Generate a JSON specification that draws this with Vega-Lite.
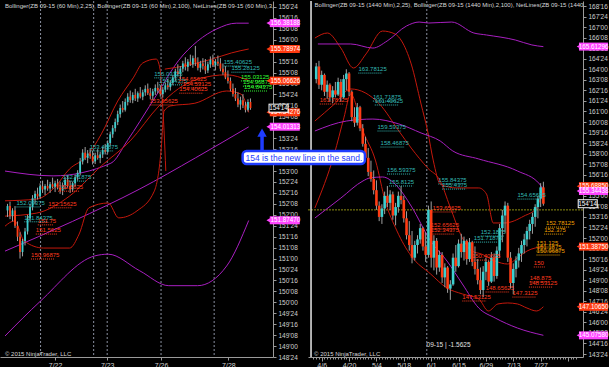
{
"$schema": "https://vega.github.io/schema/vega-lite/v6.json",
"background": "#000000",
"padding": 0,
"spacing": 35,
"bounds": "flush",
"config": {"view": {"stroke": null}, "font": "Liberation Sans",
 "axis": {"labelOverlap": false, "labelFlush": false, "grid": false, "labelFontSize": 6.5, "labelColor": "#d0d0d0", "tickColor": "#9a9a9a", "domainColor": "#9a9a9a", "tickSize": 3, "labelPadding": 2, "labelBound": false, "labelSeparation": 0}},
"datasets": {
"lc": [
{"i":1,"o":152.10,"h":152.25,"l":151.95,"c":152.20},{"i":2,"o":152.20,"h":152.30,"l":151.90,"c":151.98},{"i":3,"o":151.98,"h":152.15,"l":151.85,"c":152.10},{"i":4,"o":152.10,"h":152.20,"l":151.70,"c":151.75},{"i":5,"o":151.75,"h":151.85,"l":151.40,"c":151.50},{"i":6,"o":151.50,"h":151.60,"l":151.00,"c":151.15},{"i":7,"o":151.15,"h":151.45,"l":151.05,"c":151.40},{"i":8,"o":151.40,"h":151.70,"l":151.30,"c":151.62},{"i":9,"o":151.62,"h":152.00,"l":151.55,"c":151.92},{"i":10,"o":151.92,"h":152.25,"l":151.85,"c":152.18},
{"i":11,"o":152.18,"h":152.45,"l":152.10,"c":152.38},{"i":12,"o":152.38,"h":152.55,"l":152.25,"c":152.48},{"i":13,"o":152.48,"h":152.62,"l":152.35,"c":152.42},{"i":14,"o":152.42,"h":152.72,"l":152.38,"c":152.65},{"i":15,"o":152.65,"h":152.78,"l":152.50,"c":152.58},{"i":16,"o":152.58,"h":152.70,"l":152.45,"c":152.66},{"i":17,"o":152.66,"h":152.80,"l":152.55,"c":152.60},{"i":18,"o":152.60,"h":152.75,"l":152.50,"c":152.70},{"i":19,"o":152.70,"h":152.85,"l":152.60,"c":152.64},{"i":20,"o":152.64,"h":152.78,"l":152.52,"c":152.72},
{"i":21,"o":152.72,"h":152.82,"l":152.58,"c":152.62},{"i":22,"o":152.62,"h":152.76,"l":152.48,"c":152.55},{"i":23,"o":152.55,"h":152.74,"l":152.45,"c":152.68},{"i":24,"o":152.68,"h":152.86,"l":152.58,"c":152.80},{"i":25,"o":152.80,"h":152.90,"l":152.62,"c":152.66},{"i":26,"o":152.66,"h":152.78,"l":152.50,"c":152.58},{"i":27,"o":152.58,"h":152.76,"l":152.52,"c":152.72},{"i":28,"o":152.72,"h":152.92,"l":152.65,"c":152.86},{"i":29,"o":152.86,"h":153.02,"l":152.78,"c":152.96},{"i":30,"o":152.96,"h":153.30,"l":152.90,"c":153.22},
{"i":31,"o":153.22,"h":153.50,"l":153.15,"c":153.42},{"i":32,"o":153.42,"h":153.55,"l":153.25,"c":153.30},{"i":33,"o":153.30,"h":153.48,"l":153.18,"c":153.40},{"i":34,"o":153.40,"h":153.52,"l":153.28,"c":153.34},{"i":35,"o":153.34,"h":153.46,"l":153.15,"c":153.22},{"i":36,"o":153.22,"h":153.42,"l":153.16,"c":153.36},{"i":37,"o":153.36,"h":153.50,"l":153.26,"c":153.30},{"i":38,"o":153.30,"h":153.44,"l":153.18,"c":153.38},{"i":39,"o":153.38,"h":153.56,"l":153.30,"c":153.48},{"i":40,"o":153.48,"h":153.62,"l":153.38,"c":153.44},
{"i":41,"o":153.44,"h":153.70,"l":153.40,"c":153.64},{"i":42,"o":153.64,"h":153.90,"l":153.58,"c":153.84},{"i":43,"o":153.84,"h":154.05,"l":153.76,"c":153.98},{"i":44,"o":153.98,"h":154.20,"l":153.90,"c":154.12},{"i":45,"o":154.12,"h":154.38,"l":154.05,"c":154.30},{"i":46,"o":154.30,"h":154.52,"l":154.22,"c":154.44},{"i":47,"o":154.44,"h":154.60,"l":154.34,"c":154.40},{"i":48,"o":154.40,"h":154.66,"l":154.36,"c":154.58},{"i":49,"o":154.58,"h":154.78,"l":154.50,"c":154.70},{"i":50,"o":154.70,"h":154.84,"l":154.56,"c":154.62},
{"i":51,"o":154.62,"h":154.80,"l":154.55,"c":154.74},{"i":52,"o":154.74,"h":154.88,"l":154.60,"c":154.66},{"i":53,"o":154.66,"h":154.82,"l":154.58,"c":154.78},{"i":54,"o":154.78,"h":154.92,"l":154.66,"c":154.70},{"i":55,"o":154.70,"h":154.86,"l":154.62,"c":154.80},{"i":56,"o":154.80,"h":154.96,"l":154.72,"c":154.88},{"i":57,"o":154.88,"h":155.00,"l":154.74,"c":154.78},{"i":58,"o":154.78,"h":154.90,"l":154.64,"c":154.72},{"i":59,"o":154.72,"h":154.88,"l":154.62,"c":154.82},{"i":60,"o":154.82,"h":154.98,"l":154.74,"c":154.90},
{"i":61,"o":154.90,"h":155.04,"l":154.78,"c":154.84},{"i":62,"o":154.84,"h":154.96,"l":154.70,"c":154.76},{"i":63,"o":154.76,"h":154.92,"l":154.68,"c":154.86},{"i":64,"o":154.86,"h":155.02,"l":154.80,"c":154.96},{"i":65,"o":154.96,"h":155.10,"l":154.86,"c":154.92},{"i":66,"o":154.92,"h":155.08,"l":154.84,"c":155.02},{"i":67,"o":155.02,"h":155.20,"l":154.96,"c":155.14},{"i":68,"o":155.14,"h":155.34,"l":155.06,"c":155.28},{"i":69,"o":155.28,"h":155.44,"l":155.16,"c":155.22},{"i":70,"o":155.22,"h":155.40,"l":155.10,"c":155.34},
{"i":71,"o":155.34,"h":155.52,"l":155.26,"c":155.46},{"i":72,"o":155.46,"h":155.60,"l":155.30,"c":155.38},{"i":73,"o":155.38,"h":155.56,"l":155.28,"c":155.50},{"i":74,"o":155.50,"h":155.66,"l":155.40,"c":155.44},{"i":75,"o":155.44,"h":155.64,"l":155.36,"c":155.58},{"i":76,"o":155.58,"h":155.86,"l":155.40,"c":155.48},{"i":77,"o":155.48,"h":155.60,"l":155.30,"c":155.36},{"i":78,"o":155.36,"h":155.52,"l":155.26,"c":155.46},{"i":79,"o":155.46,"h":155.58,"l":155.32,"c":155.40},{"i":80,"o":155.40,"h":155.56,"l":155.22,"c":155.30},
{"i":81,"o":155.30,"h":155.50,"l":155.24,"c":155.44},{"i":82,"o":155.44,"h":155.62,"l":155.36,"c":155.54},{"i":83,"o":155.54,"h":155.66,"l":155.38,"c":155.42},{"i":84,"o":155.42,"h":155.56,"l":155.30,"c":155.50},{"i":85,"o":155.50,"h":155.64,"l":155.40,"c":155.46},{"i":86,"o":155.46,"h":155.58,"l":155.28,"c":155.34},{"i":87,"o":155.34,"h":155.46,"l":155.20,"c":155.26},{"i":88,"o":155.26,"h":155.40,"l":155.10,"c":155.14},{"i":89,"o":155.14,"h":155.30,"l":155.00,"c":155.06},{"i":90,"o":155.06,"h":155.14,"l":154.82,"c":154.88},
{"i":91,"o":154.88,"h":155.00,"l":154.70,"c":154.76},{"i":92,"o":154.76,"h":154.90,"l":154.60,"c":154.66},{"i":93,"o":154.66,"h":154.80,"l":154.46,"c":154.52},{"i":94,"o":154.52,"h":154.70,"l":154.40,"c":154.62},{"i":95,"o":154.62,"h":154.76,"l":154.44,"c":154.50},{"i":96,"o":154.50,"h":154.58,"l":154.34,"c":154.40},{"i":97,"o":154.40,"h":154.64,"l":154.36,"c":154.58},{"i":98,"o":154.58,"h":154.66,"l":154.40,"c":154.44}
],
"rc": [
{"i":1,"o":163.3,"h":164.45,"l":163.0,"c":164.2},{"i":2,"o":164.2,"h":164.6,"l":162.6,"c":162.9},{"i":3,"o":162.9,"h":163.9,"l":162.5,"c":163.6},{"i":4,"o":163.6,"h":163.7,"l":162.1,"c":162.4},{"i":5,"o":162.4,"h":163.2,"l":161.9,"c":162.9},{"i":6,"o":162.9,"h":163.0,"l":161.7,"c":162.0},{"i":7,"o":162.0,"h":162.8,"l":161.6,"c":162.5},{"i":8,"o":162.5,"h":163.1,"l":162.0,"c":162.2},{"i":9,"o":162.2,"h":163.4,"l":162.1,"c":163.1},{"i":10,"o":163.1,"h":163.3,"l":161.7,"c":162.0},
{"i":11,"o":162.0,"h":163.6,"l":161.9,"c":163.3},{"i":12,"o":163.3,"h":164.0,"l":162.5,"c":163.7},{"i":13,"o":163.7,"h":163.8,"l":162.1,"c":162.4},{"i":14,"o":162.4,"h":162.5,"l":160.3,"c":160.6},{"i":15,"o":160.6,"h":161.3,"l":159.9,"c":160.2},{"i":16,"o":160.2,"h":161.6,"l":160.0,"c":161.3},{"i":17,"o":161.3,"h":161.4,"l":159.6,"c":159.8},{"i":18,"o":159.8,"h":160.1,"l":158.5,"c":158.7},{"i":19,"o":158.7,"h":159.2,"l":157.5,"c":157.7},{"i":20,"o":157.7,"h":158.4,"l":156.4,"c":156.7},
{"i":21,"o":156.7,"h":157.5,"l":156.0,"c":156.2},{"i":22,"o":156.2,"h":156.8,"l":155.1,"c":155.4},{"i":23,"o":155.4,"h":156.1,"l":154.0,"c":154.3},{"i":24,"o":154.3,"h":154.6,"l":153.2,"c":153.5},{"i":25,"o":153.5,"h":154.4,"l":153.0,"c":154.1},{"i":26,"o":154.1,"h":155.3,"l":153.7,"c":155.0},{"i":27,"o":155.0,"h":155.7,"l":154.2,"c":154.5},{"i":28,"o":154.5,"h":155.4,"l":154.0,"c":155.1},{"i":29,"o":155.1,"h":155.3,"l":153.3,"c":153.6},{"i":30,"o":153.6,"h":154.5,"l":152.9,"c":154.2},
{"i":31,"o":154.2,"h":155.3,"l":153.8,"c":155.0},{"i":32,"o":155.0,"h":155.7,"l":154.4,"c":154.7},{"i":33,"o":154.7,"h":155.0,"l":153.1,"c":153.4},{"i":34,"o":153.4,"h":153.9,"l":151.9,"c":152.2},{"i":35,"o":152.2,"h":153.2,"l":151.1,"c":151.5},{"i":36,"o":151.5,"h":152.5,"l":150.2,"c":150.6},{"i":37,"o":150.6,"h":151.8,"l":150.4,"c":151.5},{"i":38,"o":151.5,"h":152.2,"l":150.9,"c":151.9},{"i":39,"o":151.9,"h":153.0,"l":151.6,"c":152.7},{"i":40,"o":152.7,"h":152.8,"l":151.1,"c":151.4},
{"i":41,"o":151.4,"h":152.4,"l":150.3,"c":150.8},{"i":42,"o":150.8,"h":154.3,"l":150.6,"c":154.0},{"i":43,"o":154.0,"h":154.6,"l":149.9,"c":150.6},{"i":44,"o":150.6,"h":152.2,"l":149.7,"c":151.8},{"i":45,"o":151.8,"h":152.0,"l":149.4,"c":149.9},{"i":46,"o":149.9,"h":151.1,"l":149.6,"c":150.8},{"i":47,"o":150.8,"h":151.0,"l":148.8,"c":149.2},{"i":48,"o":149.2,"h":150.2,"l":148.5,"c":149.9},{"i":49,"o":149.9,"h":150.0,"l":148.1,"c":148.4},{"i":50,"o":148.4,"h":149.0,"l":147.6,"c":148.7},
{"i":51,"o":148.7,"h":150.9,"l":148.6,"c":150.6},{"i":52,"o":150.6,"h":151.5,"l":149.6,"c":150.0},{"i":53,"o":150.0,"h":151.9,"l":149.9,"c":151.6},{"i":54,"o":151.6,"h":152.3,"l":150.6,"c":151.0},{"i":55,"o":151.0,"h":152.1,"l":150.4,"c":151.8},{"i":56,"o":151.8,"h":151.9,"l":150.1,"c":150.5},{"i":57,"o":150.5,"h":152.0,"l":150.3,"c":151.7},{"i":58,"o":151.7,"h":151.8,"l":150.0,"c":150.3},{"i":59,"o":150.3,"h":151.4,"l":149.4,"c":149.8},{"i":60,"o":149.8,"h":150.5,"l":148.7,"c":149.0},
{"i":61,"o":149.0,"h":149.9,"l":148.0,"c":148.3},{"i":62,"o":148.3,"h":150.0,"l":147.8,"c":149.6},{"i":63,"o":149.6,"h":150.6,"l":149.0,"c":150.3},{"i":64,"o":150.3,"h":150.4,"l":148.6,"c":148.9},{"i":65,"o":148.9,"h":151.0,"l":148.8,"c":150.6},{"i":66,"o":150.6,"h":150.9,"l":148.9,"c":149.3},{"i":67,"o":149.3,"h":151.4,"l":149.1,"c":151.1},{"i":68,"o":151.1,"h":153.0,"l":150.6,"c":152.7},{"i":69,"o":152.7,"h":154.0,"l":151.7,"c":153.6},{"i":70,"o":153.6,"h":154.6,"l":152.4,"c":154.3},
{"i":71,"o":154.3,"h":154.5,"l":150.3,"c":150.6},{"i":72,"o":150.6,"h":151.0,"l":148.4,"c":148.8},{"i":73,"o":148.8,"h":150.2,"l":148.0,"c":149.8},{"i":74,"o":149.8,"h":150.7,"l":149.2,"c":150.4},{"i":75,"o":150.4,"h":151.3,"l":149.9,"c":150.9},{"i":76,"o":150.9,"h":151.8,"l":150.3,"c":151.5},{"i":77,"o":151.5,"h":152.3,"l":150.9,"c":151.9},{"i":78,"o":151.9,"h":152.8,"l":151.4,"c":152.5},{"i":79,"o":152.5,"h":153.3,"l":151.9,"c":153.0},{"i":80,"o":153.0,"h":153.8,"l":152.3,"c":153.5},
{"i":81,"o":153.5,"h":154.4,"l":152.8,"c":154.2},{"i":82,"o":154.2,"h":155.0,"l":153.4,"c":154.8},{"i":83,"o":154.8,"h":155.9,"l":154.2,"c":155.6},{"i":84,"o":155.6,"h":156.0,"l":154.3,"c":154.44}
],
"ll": [
{"s":"pu","i":0,"p":153.0},{"s":"pu","i":19.2,"p":152.89},{"s":"pu","i":42.3,"p":153.18},{"s":"pu","i":48.8,"p":153.69},{"s":"pu","i":53.8,"p":154.13},{"s":"pu","i":61.5,"p":154.83},{"s":"pu","i":69.2,"p":155.52},{"s":"pu","i":76.9,"p":155.97},{"s":"pu","i":84.6,"p":156.25},{"s":"pu","i":92.3,"p":156.38},{"s":"pu","i":97.3,"p":156.38},
{"s":"pm","i":0,"p":151.17},{"s":"pm","i":27,"p":151.85},{"s":"pm","i":53.8,"p":152.59},{"s":"pm","i":76,"p":153.3},{"s":"pm","i":97.3,"p":154.01},
{"s":"pl","i":0,"p":149.23},{"s":"pl","i":14.2,"p":150.03},{"s":"pl","i":35.8,"p":151.06},{"s":"pl","i":41.2,"p":151.1},{"s":"pl","i":53.8,"p":150.72},{"s":"pl","i":65.4,"p":150.38},{"s":"pl","i":76.9,"p":150.38},{"s":"pl","i":88.5,"p":150.83},{"s":"pl","i":97.3,"p":151.87},
{"s":"ru","i":0,"p":152.32},{"s":"ru","i":12.7,"p":152.36},{"s":"ru","i":19.2,"p":152.59},{"s":"ru","i":25.8,"p":153.05},{"s":"ru","i":32.7,"p":153.34},{"s":"ru","i":38.5,"p":153.85},{"s":"ru","i":45,"p":154.6},{"s":"ru","i":51.2,"p":155.13},{"s":"ru","i":55,"p":155.47},{"s":"ru","i":60.4,"p":155.56},{"s":"ru","i":61.9,"p":155.33},{"s":"ru","i":62.7,"p":154.72},{"s":"ru","i":63.5,"p":153.92},{"s":"ru","i":64.2,"p":153.0},
{"s":"ru2","i":63.8,"p":155.33},{"s":"ru2","i":73.1,"p":155.42},{"s":"ru2","i":82.7,"p":155.56},{"s":"ru2","i":90.4,"p":155.7},{"s":"ru2","i":97.3,"p":155.79},
{"s":"rm","i":0,"p":151.97},{"s":"rm","i":12.7,"p":152.04},{"s":"rm","i":25.8,"p":152.43},{"s":"rm","i":38.5,"p":153.12},{"s":"rm","i":50,"p":153.69},{"s":"rm","i":61.5,"p":154.49},{"s":"rm","i":69.2,"p":154.88},{"s":"rm","i":76.9,"p":155.1},{"s":"rm","i":88.5,"p":155.2},{"s":"rm","i":97.3,"p":155.07},
{"s":"rl","i":0,"p":151.74},{"s":"rl","i":3.8,"p":151.86},{"s":"rl","i":7.7,"p":151.4},{"s":"rl","i":15.4,"p":151.24},{"s":"rl","i":25.8,"p":151.24},{"s":"rl","i":29.6,"p":151.56},{"s":"rl","i":33.5,"p":152.16},{"s":"rl","i":41.2,"p":152.27},{"s":"rl","i":45.4,"p":151.93},{"s":"rl","i":52.7,"p":152.09},{"s":"rl","i":59.6,"p":152.54},{"s":"rl","i":62.3,"p":153.46},{"s":"rl","i":63.5,"p":154.37},{"s":"rl","i":66.2,"p":154.49},{"s":"rl","i":75.8,"p":154.55},{"s":"rl","i":88.5,"p":154.83},{"s":"rl","i":94.2,"p":154.76},{"s":"rl","i":97.3,"p":154.34}
],
"rl": [
{"s":"ru","i":0.5,"p":166.22},{"s":"ru","i":5.1,"p":166.58},{"s":"ru","i":10,"p":165.51},{"s":"ru","i":14.6,"p":164.09},{"s":"ru","i":19.2,"p":165.09},{"s":"ru","i":25.2,"p":166.72},{"s":"ru","i":29.8,"p":166.51},{"s":"ru","i":32.2,"p":166.01},{"s":"ru","i":35.7,"p":164.38},{"s":"ru","i":39.3,"p":161.53},{"s":"ru","i":41.7,"p":159.61},{"s":"ru","i":43.8,"p":157.48},{"s":"ru","i":46.3,"p":155.84},{"s":"ru","i":52.3,"p":155.56},{"s":"ru","i":60.4,"p":155.56},{"s":"ru","i":63.2,"p":155.13},{"s":"ru","i":65.7,"p":153.07},{"s":"ru","i":69.9,"p":153.07},{"s":"ru","i":76.9,"p":153.56},{"s":"ru","i":81.5,"p":154.13},{"s":"ru","i":84,"p":155.69},
{"s":"rm","i":0.5,"p":160.32},{"s":"rm","i":7.5,"p":161.5},{"s":"rm","i":13.6,"p":162.6},{"s":"rm","i":24.1,"p":161.53},{"s":"rm","i":31.2,"p":159.61},{"s":"rm","i":35.7,"p":158.4},{"s":"rm","i":41.7,"p":156.98},{"s":"rm","i":46.3,"p":156.06},{"s":"rm","i":49.8,"p":154.27},{"s":"rm","i":54.4,"p":152.0},{"s":"rm","i":57.9,"p":151.07},{"s":"rm","i":61.4,"p":150.86},{"s":"rm","i":66.4,"p":150.36},{"s":"rm","i":70.9,"p":150.15},{"s":"rm","i":74.5,"p":150.58},{"s":"rm","i":78,"p":151.07},{"s":"rm","i":84,"p":151.39},
{"s":"rl","i":0.5,"p":154.13},{"s":"rl","i":7.6,"p":157.97},{"s":"rl","i":11.1,"p":160.54},{"s":"rl","i":13.6,"p":162.24},{"s":"rl","i":18.1,"p":159.6},{"s":"rl","i":22.7,"p":157.48},{"s":"rl","i":26.2,"p":154.63},{"s":"rl","i":30.5,"p":152.5},{"s":"rl","i":35.7,"p":150.72},{"s":"rl","i":42.8,"p":149.44},{"s":"rl","i":48.8,"p":148.44},{"s":"rl","i":54.4,"p":148.02},{"s":"rl","i":60.4,"p":147.66},{"s":"rl","i":63.9,"p":146.81},{"s":"rl","i":67.4,"p":147.31},{"s":"rl","i":71,"p":147.38},{"s":"rl","i":74.5,"p":147.31},{"s":"rl","i":78,"p":147.02},{"s":"rl","i":81.5,"p":146.81},{"s":"rl","i":84,"p":147.11},
{"s":"pu","i":1.6,"p":165.8},{"s":"pu","i":13.6,"p":165.8},{"s":"pu","i":21.7,"p":165.51},{"s":"pu","i":26.9,"p":166.01},{"s":"pu","i":34,"p":167.08},{"s":"pu","i":38.6,"p":167.36},{"s":"pu","i":42.1,"p":167.29},{"s":"pu","i":50.5,"p":167.36},{"s":"pu","i":58.6,"p":166.58},{"s":"pu","i":63.2,"p":166.44},{"s":"pu","i":73.8,"p":166.08},{"s":"pu","i":79.8,"p":165.73},{"s":"pu","i":84,"p":165.61},
{"s":"pm","i":0.5,"p":159.61},{"s":"pm","i":12.1,"p":160.32},{"s":"pm","i":21.7,"p":160.46},{"s":"pm","i":31.2,"p":160.11},{"s":"pm","i":39.3,"p":159.47},{"s":"pm","i":46.3,"p":158.9},{"s":"pm","i":50.9,"p":158.19},{"s":"pm","i":60.4,"p":157.62},{"s":"pm","i":74.5,"p":156.77},{"s":"pm","i":82.6,"p":155.84},{"s":"pm","i":84,"p":155.34},
{"s":"pl","i":0.5,"p":153.42},{"s":"pl","i":10,"p":154.84},{"s":"pl","i":18.1,"p":156.06},{"s":"pl","i":20.6,"p":156.27},{"s":"pl","i":25.2,"p":156.34},{"s":"pl","i":30.5,"p":155.7},{"s":"pl","i":35.7,"p":154.27},{"s":"pl","i":42.8,"p":151.79},{"s":"pl","i":48.8,"p":150.36},{"s":"pl","i":54.4,"p":148.73},{"s":"pl","i":60.4,"p":147.02},{"s":"pl","i":66.4,"p":146.31},{"s":"pl","i":74.5,"p":145.6},{"s":"pl","i":84,"p":145.08}
],
"lt": [
{"i":33.8,"i2":43.4,"p":153.46,"t":"153.46875","c":"cy"},{"i":23.1,"i2":32.7,"p":152.77,"t":"152.71875","c":"cy"},{"i":4.6,"i2":14.2,"p":152.18,"t":"152.09375","c":"cy"},{"i":7.7,"i2":17.3,"p":151.84,"t":"151.84375","c":"cy"},{"i":59.6,"i2":69.2,"p":155.13,"t":"155.03125","c":"cy"},{"i":61.5,"i2":71.1,"p":154.97,"t":"154.84375","c":"cy"},{"i":87.3,"i2":96.9,"p":155.4,"t":"155.40625","c":"cy"},{"i":90.4,"i2":100,"p":155.26,"t":"155.28125","c":"cy"},
{"i":17.3,"i2":26.9,"p":152.16,"t":"152.15625","c":"rd"},{"i":13.1,"i2":19.5,"p":151.77,"t":"151.75","c":"rd"},{"i":12.3,"i2":20.8,"p":151.56,"t":"151.5625","c":"rd"},{"i":10.4,"i2":20,"p":150.99,"t":"150.96875","c":"rd"},{"i":21.2,"i2":29.7,"p":152.54,"t":"152.5625","c":"rd"},{"i":69.2,"i2":78.8,"p":155.01,"t":"154.65625","c":"rd"},{"i":71,"i2":80.6,"p":154.9,"t":"154.53125","c":"rd"},{"i":69.6,"i2":79.2,"p":154.78,"t":"154.40625","c":"rd"},{"i":57.7,"i2":67.3,"p":154.51,"t":"153.65625","c":"rd"},
{"i":94.2,"i2":103.8,"p":155.06,"t":"155.03125","c":"gr"},{"i":95,"i2":104.5,"p":154.94,"t":"154.96875","c":"gr"},{"i":95.4,"i2":104.8,"p":154.83,"t":"154.84375","c":"gr"}
],
"rt": [
{"i":16.4,"i2":25.2,"p":163.73,"t":"163.78125","c":"cy"},{"i":21.7,"i2":30.5,"p":161.74,"t":"161.71875","c":"cy"},{"i":22.4,"i2":31.2,"p":161.46,"t":"161.40625","c":"cy"},{"i":23.4,"i2":32.2,"p":159.61,"t":"159.59375","c":"cy"},{"i":24.5,"i2":33.3,"p":158.47,"t":"158.46875","c":"cy"},{"i":26.9,"i2":35.7,"p":156.55,"t":"156.59375","c":"cy"},{"i":27.6,"i2":36.4,"p":155.7,"t":"155.8125","c":"cy"},{"i":45.6,"i2":54.4,"p":155.84,"t":"155.84375","c":"cy"},{"i":47,"i2":55.8,"p":155.48,"t":"155.4375","c":"cy"},{"i":74.5,"i2":83.3,"p":154.77,"t":"154.65625","c":"cy"},{"i":61.1,"i2":69.5,"p":152.14,"t":"152.1875","c":"cy"},{"i":58.6,"i2":67.4,"p":151.71,"t":"151.71875","c":"cy"},
{"i":2.3,"i2":11.1,"p":161.53,"t":"161.78125","c":"rd"},{"i":43.5,"i2":52.3,"p":153.85,"t":"153.65625","c":"rd"},{"i":42.8,"i2":51.6,"p":152.64,"t":"152.65625","c":"rd"},{"i":42.8,"i2":51.6,"p":152.28,"t":"152.34375","c":"rd"},{"i":57.9,"i2":66.7,"p":150.43,"t":"150.40625","c":"rd"},{"i":80.5,"i2":84.5,"p":149.94,"t":"150","c":"rd"},{"i":79,"i2":86,"p":148.87,"t":"148.875","c":"rd"},{"i":78.7,"i2":87.5,"p":148.51,"t":"148.53125","c":"rd"},{"i":72.7,"i2":81.1,"p":147.8,"t":"147.3125","c":"rd"},{"i":62.9,"i2":71.7,"p":148.16,"t":"148.65625","c":"rd"},{"i":54.4,"i2":63.2,"p":147.52,"t":"147.53125","c":"rd"},
{"i":85,"i2":93.8,"p":152.78,"t":"152.78125","c":"or"},{"i":84.3,"i2":91.5,"p":152.28,"t":"152.375","c":"or"},{"i":81.5,"i2":88,"p":151.36,"t":"151.125","c":"or"},{"i":81.5,"i2":90,"p":151.07,"t":"151.1875","c":"or"},{"i":81.5,"i2":90.3,"p":150.79,"t":"150.96875","c":"or"}
],
"ltag": [
{"p":156.38188,"t":"156.38188","c":"mg"},{"p":155.78974,"t":"155.78974","c":"rt"},{"p":155.06626,"t":"155.06626","c":"rt"},{"p":154.34276,"t":"154.34276","c":"rt"},{"p":154.01313,"t":"154.01313","c":"mg"},{"p":151.8747,"t":"151.87470","c":"mg"}
],
"rtag": [
{"p":165.61296,"t":"165.61296","c":"mg"},{"p":155.6885,"t":"155.68850","c":"rt"},{"p":155.34438,"t":"155.34438","c":"mg"},{"p":151.3875,"t":"151.38750","c":"rt"},{"p":147.1065,"t":"147.10650","c":"rt"},{"p":145.0758,"t":"145.07580","c":"mg"}
],
"cur": [{"p":154.4375,"t":"154'14"}],
"lv": [{"i":14.2},{"i":35.4},{"i":40.8},{"i":62.3},{"i":83.5}],
"rv": [{"i":41.4}],
"rh": [{"p":154.0}],
"lhead": [{"t":"Bollinger(ZB 09-15 (60 Min),2,25), Bollinger(ZB 09-15 (60 Min),2,100), NetLines(ZB 09-15 (60 Min),3,5,Color [Line])","cp":"© 2015 NinjaTrader, LLC"}],
"rhead": [{"t":"Bollinger(ZB 09-15 (1440 Min),2,25), Bollinger(ZB 09-15 (1440 Min),2,100), NetLines(ZB 09-15 (1440 Min),3,5,Color [Line])","cp":"© 2015 NinjaTrader, LLC","n":"09-15 | -1.5625","a":"154 is the new line in the sand."}]
},
"hconcat": [
{
"width": 273, "height": 356,
"resolve": {"axis": {"x": "independent", "y": "independent"}},
"layer": [
{"data": {"name": "lv"}, "mark": {"type": "rule", "strokeDash": [2, 2], "color": "#8a90a0", "strokeWidth": 1},
 "encoding": {"x": {"field": "i", "type": "quantitative", "scale": {"domain": [0, 105], "nice": false, "zero": false},
   "axis": {"orient": "bottom", "values": [20, 40.8, 62.3, 89.2], "labelExpr": "datum.value < 30 ? '7/22' : datum.value < 50 ? '7/23' : datum.value < 70 ? '7/26' : '7/28'", "title": null, "labelFontSize": 7, "labelPadding": 1, "labelOverlap": false}}}},
{"data": {"name": "ll"}, "mark": {"type": "line", "strokeWidth": 1, "interpolate": "monotone"},
 "encoding": {"x": {"field": "i", "type": "quantitative", "scale": {"domain": [0, 105], "nice": false, "zero": false}, "axis": null},
  "y": {"field": "p", "type": "quantitative", "scale": {"domain": [148.75, 156.887], "nice": false, "zero": false},
   "axis": {"orient": "right", "values": [148.75,149,149.25,149.5,149.75,150,150.25,150.5,150.75,151,151.25,151.5,151.75,152,152.25,152.5,152.75,153,153.25,153.5,153.75,154,154.25,154.5,154.75,155,155.25,155.5,155.75,156,156.25,156.5,156.75], "labelExpr": "floor(datum.value) + \"'\" + (round((datum.value-floor(datum.value))*32) < 10 ? '0' : '') + round((datum.value-floor(datum.value))*32)", "title": null, "labelOverlap": false}},
  "detail": {"field": "s"},
  "color": {"field": "s", "type": "nominal", "scale": {"domain": ["pu","pm","pl","ru","rm","rl","cy","rd","gr","or","mg","rt","ru2"], "range": ["#a81fc0","#a81fc0","#a81fc0","#c4180c","#c4180c","#c4180c","#33b8b4","#ff3b1e","#33ff33","#f0a000","#ff44ff","#ff3a10","#c4180c"]}, "legend": null}}},
{"data": {"name": "lc"}, "mark": {"type": "rule", "color": "#a0a0a0", "strokeWidth": 1},
 "encoding": {"x": {"field": "i", "type": "quantitative", "scale": {"domain": [0, 105], "nice": false, "zero": false}, "axis": null},
  "y": {"field": "l", "type": "quantitative", "scale": {"domain": [148.75, 156.887], "nice": false, "zero": false}, "axis": null},
  "y2": {"field": "h"}}},
{"data": {"name": "lc"}, "mark": {"type": "bar", "width": 1.8},
 "encoding": {"x": {"field": "i", "type": "quantitative", "scale": {"domain": [0, 105], "nice": false, "zero": false}, "axis": null},
  "y": {"field": "o", "type": "quantitative", "scale": {"domain": [148.75, 156.887], "nice": false, "zero": false}, "axis": null},
  "y2": {"field": "c"},
  "color": {"condition": {"test": "datum.c >= datum.o", "value": "#3ccfcf"}, "value": "#ff3c14"}}},
{"data": {"name": "lt"}, "mark": {"type": "rule", "strokeDash": [1, 1], "strokeWidth": 1},
 "encoding": {"x": {"field": "i", "type": "quantitative", "scale": {"domain": [0, 105], "nice": false, "zero": false}, "axis": null},
  "x2": {"field": "i2"},
  "y": {"field": "p", "type": "quantitative", "scale": {"domain": [148.75, 156.887], "nice": false, "zero": false}, "axis": null},
  "color": {"field": "c", "type": "nominal", "scale": {"domain": ["pu","pm","pl","ru","rm","rl","cy","rd","gr","or","mg","rt","ru2"], "range": ["#a81fc0","#a81fc0","#a81fc0","#c4180c","#c4180c","#c4180c","#33b8b4","#ff3b1e","#33ff33","#f0a000","#ff44ff","#ff3a10","#c4180c"]}, "legend": null}}},
{"data": {"name": "lt"}, "mark": {"type": "text", "align": "left", "baseline": "bottom", "dy": -1, "fontSize": 6},
 "encoding": {"x": {"field": "i", "type": "quantitative", "scale": {"domain": [0, 105], "nice": false, "zero": false}, "axis": null},
  "y": {"field": "p", "type": "quantitative", "scale": {"domain": [148.75, 156.887], "nice": false, "zero": false}, "axis": null},
  "text": {"field": "t"},
  "color": {"field": "c", "type": "nominal", "scale": {"domain": ["pu","pm","pl","ru","rm","rl","cy","rd","gr","or","mg","rt","ru2"], "range": ["#a81fc0","#a81fc0","#a81fc0","#c4180c","#c4180c","#c4180c","#33b8b4","#ff3b1e","#33ff33","#f0a000","#ff44ff","#ff3a10","#c4180c"]}, "legend": null}}},
{"data": {"name": "ltag"}, "mark": {"type": "point", "shape": "triangle-left", "filled": true, "opacity": 1, "size": 35},
 "encoding": {"x": {"datum": 105.4, "type": "quantitative", "scale": {"domain": [0, 105], "nice": false, "zero": false}, "axis": null},
  "y": {"field": "p", "type": "quantitative", "scale": {"domain": [148.75, 156.887], "nice": false, "zero": false}, "axis": null},
  "color": {"field": "c", "type": "nominal", "scale": {"domain": ["pu","pm","pl","ru","rm","rl","cy","rd","gr","or","mg","rt","ru2"], "range": ["#a81fc0","#a81fc0","#a81fc0","#c4180c","#c4180c","#c4180c","#33b8b4","#ff3b1e","#33ff33","#f0a000","#ff44ff","#ff3a10","#c4180c"]}, "legend": null}}},
{"data": {"name": "ltag"}, "mark": {"type": "tick", "orient": "horizontal", "size": 30, "thickness": 8, "opacity": 1},
 "encoding": {"x": {"datum": 111.7, "type": "quantitative", "scale": {"domain": [0, 105], "nice": false, "zero": false}, "axis": null},
  "y": {"field": "p", "type": "quantitative", "scale": {"domain": [148.75, 156.887], "nice": false, "zero": false}, "axis": null},
  "color": {"field": "c", "type": "nominal", "scale": {"domain": ["pu","pm","pl","ru","rm","rl","cy","rd","gr","or","mg","rt","ru2"], "range": ["#a81fc0","#a81fc0","#a81fc0","#c4180c","#c4180c","#c4180c","#33b8b4","#ff3b1e","#33ff33","#f0a000","#ff44ff","#ff3a10","#c4180c"]}, "legend": null}}},
{"data": {"name": "ltag"}, "mark": {"type": "text", "align": "center", "baseline": "middle", "fontSize": 6.3, "color": "#ffffff"},
 "encoding": {"x": {"datum": 111.9, "type": "quantitative", "scale": {"domain": [0, 105], "nice": false, "zero": false}, "axis": null},
  "y": {"field": "p", "type": "quantitative", "scale": {"domain": [148.75, 156.887], "nice": false, "zero": false}, "axis": null},
  "text": {"field": "t"}}},
{"data": {"name": "cur"}, "mark": {"type": "tick", "orient": "horizontal", "size": 20, "thickness": 9, "color": "#ffffff", "opacity": 1},
 "encoding": {"x": {"datum": 109.2, "type": "quantitative", "scale": {"domain": [0, 105], "nice": false, "zero": false}, "axis": null},
  "y": {"field": "p", "type": "quantitative", "scale": {"domain": [148.75, 156.887], "nice": false, "zero": false}, "axis": null}}},
{"data": {"name": "cur"}, "mark": {"type": "tick", "orient": "horizontal", "size": 18, "thickness": 7, "color": "#000000", "opacity": 1},
 "encoding": {"x": {"datum": 109.2, "type": "quantitative", "scale": {"domain": [0, 105], "nice": false, "zero": false}, "axis": null},
  "y": {"field": "p", "type": "quantitative", "scale": {"domain": [148.75, 156.887], "nice": false, "zero": false}, "axis": null}}},
{"data": {"name": "cur"}, "mark": {"type": "text", "align": "center", "baseline": "middle", "fontSize": 6.3, "color": "#ffffff"},
 "encoding": {"x": {"datum": 109.2, "type": "quantitative", "scale": {"domain": [0, 105], "nice": false, "zero": false}, "axis": null},
  "y": {"field": "p", "type": "quantitative", "scale": {"domain": [148.75, 156.887], "nice": false, "zero": false}, "axis": null},
  "text": {"field": "t"}}},
{"data": {"name": "lhead"}, "mark": {"type": "text", "align": "left", "baseline": "top", "fontSize": 6, "color": "#d8d8d8", "clip": true},
 "encoding": {"x": {"datum": 0, "type": "quantitative", "scale": {"domain": [0, 105], "nice": false, "zero": false}, "axis": null},
  "y": {"datum": 156.85, "type": "quantitative", "scale": {"domain": [148.75, 156.887], "nice": false, "zero": false}, "axis": null},
  "text": {"field": "t"}}},
{"data": {"name": "lhead"}, "mark": {"type": "text", "align": "left", "baseline": "middle", "fontSize": 6, "color": "#d8d8d8"},
 "encoding": {"x": {"datum": 0, "type": "quantitative", "scale": {"domain": [0, 105], "nice": false, "zero": false}, "axis": null},
  "y": {"datum": 148.82, "type": "quantitative", "scale": {"domain": [148.75, 156.887], "nice": false, "zero": false}, "axis": null},
  "text": {"field": "cp"}}}
]
},
{
"width": 275, "height": 356,
"resolve": {"axis": {"x": "independent", "y": "independent"}},
"layer": [
{"data": {"name": "rv"}, "mark": {"type": "rule", "strokeDash": [2, 2], "color": "#8a90a0", "strokeWidth": 1},
 "encoding": {"x": {"field": "i", "type": "quantitative", "scale": {"domain": [-0.18, 96.65], "nice": false, "zero": false},
   "axis": {"orient": "bottom", "values": [0,1,2,3,4,5,6,7,8,9,10,11,12,13,14,15,16,17,18,19,20,21,22,23,24,25,26,27,28,29,30,31,32,33,34,35,36,37,38,39,40,41,42,43,44,45,46,47,48,49,50,51,52,53,54,55,56,57,58,59,60,61,62,63,64,65,66,67,68,69,70,71,72,73,74,75,76,77,78,79,80,81,82,83,84,85,86,87,88,89,90,91,92,93,94,95,96], "labelExpr": "(datum.value >= 3 && datum.value <= 83 && (datum.value - 3) % 10 == 0) ? ['4/6','4/20','5/4','5/18','6/1','6/15','6/29','7/13','7/27'][(datum.value-3)/10] : ''", "tickSize": {"condition": {"test": "(datum.value - 3) % 10 == 0", "value": 4}, "value": 2}, "title": null, "labelFontSize": 7, "labelPadding": 0, "labelOverlap": false}}}},
{"data": {"name": "rh"}, "mark": {"type": "rule", "strokeDash": [2, 1], "color": "#8c8c10", "strokeWidth": 1},
 "encoding": {"y": {"field": "p", "type": "quantitative", "scale": {"domain": [143.537, 168.856], "nice": false, "zero": false}, "axis": null}}},
{"data": {"name": "rl"}, "mark": {"type": "line", "strokeWidth": 1, "interpolate": "monotone"},
 "encoding": {"x": {"field": "i", "type": "quantitative", "scale": {"domain": [-0.18, 96.65], "nice": false, "zero": false}, "axis": null},
  "y": {"field": "p", "type": "quantitative", "scale": {"domain": [143.537, 168.856], "nice": false, "zero": false},
   "axis": {"orient": "right", "values": [143.75,144.5,145.25,146,146.75,147.5,148.25,149,149.75,150.5,151.25,152,152.75,153.5,154.25,155,155.75,156.5,157.25,158,158.75,159.5,160.25,161,161.75,162.5,163.25,164,164.75,165.5,166.25,167,167.75,168.5], "labelExpr": "floor(datum.value) + \"'\" + (round((datum.value-floor(datum.value))*32) < 10 ? '0' : '') + round((datum.value-floor(datum.value))*32)", "title": null, "labelOverlap": false}},
  "detail": {"field": "s"},
  "color": {"field": "s", "type": "nominal", "scale": {"domain": ["pu","pm","pl","ru","rm","rl","cy","rd","gr","or","mg","rt"], "range": ["#a81fc0","#a81fc0","#a81fc0","#c4180c","#c4180c","#c4180c","#33b8b4","#ff3b1e","#33ff33","#f0a000","#ff44ff","#ff3a10"]}, "legend": null}}},
{"data": {"name": "rc"}, "mark": {"type": "rule", "color": "#a0a0a0", "strokeWidth": 1},
 "encoding": {"x": {"field": "i", "type": "quantitative", "scale": {"domain": [-0.18, 96.65], "nice": false, "zero": false}, "axis": null},
  "y": {"field": "l", "type": "quantitative", "scale": {"domain": [143.537, 168.856], "nice": false, "zero": false}, "axis": null},
  "y2": {"field": "h"}}},
{"data": {"name": "rc"}, "mark": {"type": "bar", "width": 2.6},
 "encoding": {"x": {"field": "i", "type": "quantitative", "scale": {"domain": [-0.18, 96.65], "nice": false, "zero": false}, "axis": null},
  "y": {"field": "o", "type": "quantitative", "scale": {"domain": [143.537, 168.856], "nice": false, "zero": false}, "axis": null},
  "y2": {"field": "c"},
  "color": {"condition": {"test": "datum.c >= datum.o", "value": "#3ccfcf"}, "value": "#ff3c14"}}},
{"data": {"name": "rt"}, "mark": {"type": "rule", "strokeDash": [1, 1], "strokeWidth": 1},
 "encoding": {"x": {"field": "i", "type": "quantitative", "scale": {"domain": [-0.18, 96.65], "nice": false, "zero": false}, "axis": null},
  "x2": {"field": "i2"},
  "y": {"field": "p", "type": "quantitative", "scale": {"domain": [143.537, 168.856], "nice": false, "zero": false}, "axis": null},
  "color": {"field": "c", "type": "nominal", "scale": {"domain": ["pu","pm","pl","ru","rm","rl","cy","rd","gr","or","mg","rt"], "range": ["#a81fc0","#a81fc0","#a81fc0","#c4180c","#c4180c","#c4180c","#33b8b4","#ff3b1e","#33ff33","#f0a000","#ff44ff","#ff3a10"]}, "legend": null}}},
{"data": {"name": "rt"}, "mark": {"type": "text", "align": "left", "baseline": "bottom", "dy": -1, "fontSize": 6},
 "encoding": {"x": {"field": "i", "type": "quantitative", "scale": {"domain": [-0.18, 96.65], "nice": false, "zero": false}, "axis": null},
  "y": {"field": "p", "type": "quantitative", "scale": {"domain": [143.537, 168.856], "nice": false, "zero": false}, "axis": null},
  "text": {"field": "t"},
  "color": {"field": "c", "type": "nominal", "scale": {"domain": ["pu","pm","pl","ru","rm","rl","cy","rd","gr","or","mg","rt"], "range": ["#a81fc0","#a81fc0","#a81fc0","#c4180c","#c4180c","#c4180c","#33b8b4","#ff3b1e","#33ff33","#f0a000","#ff44ff","#ff3a10"]}, "legend": null}}},
{"data": {"name": "rtag"}, "mark": {"type": "point", "shape": "triangle-left", "filled": true, "opacity": 1, "size": 35},
 "encoding": {"x": {"datum": 97.1, "type": "quantitative", "scale": {"domain": [-0.18, 96.65], "nice": false, "zero": false}, "axis": null},
  "y": {"field": "p", "type": "quantitative", "scale": {"domain": [143.537, 168.856], "nice": false, "zero": false}, "axis": null},
  "color": {"field": "c", "type": "nominal", "scale": {"domain": ["pu","pm","pl","ru","rm","rl","cy","rd","gr","or","mg","rt"], "range": ["#a81fc0","#a81fc0","#a81fc0","#c4180c","#c4180c","#c4180c","#33b8b4","#ff3b1e","#33ff33","#f0a000","#ff44ff","#ff3a10"]}, "legend": null}}},
{"data": {"name": "rtag"}, "mark": {"type": "tick", "orient": "horizontal", "size": 29, "thickness": 8, "opacity": 1},
 "encoding": {"x": {"datum": 102.3, "type": "quantitative", "scale": {"domain": [-0.18, 96.65], "nice": false, "zero": false}, "axis": null},
  "y": {"field": "p", "type": "quantitative", "scale": {"domain": [143.537, 168.856], "nice": false, "zero": false}, "axis": null},
  "color": {"field": "c", "type": "nominal", "scale": {"domain": ["pu","pm","pl","ru","rm","rl","cy","rd","gr","or","mg","rt"], "range": ["#a81fc0","#a81fc0","#a81fc0","#c4180c","#c4180c","#c4180c","#33b8b4","#ff3b1e","#33ff33","#f0a000","#ff44ff","#ff3a10"]}, "legend": null}}},
{"data": {"name": "rtag"}, "mark": {"type": "text", "align": "center", "baseline": "middle", "fontSize": 6.3, "color": "#ffffff"},
 "encoding": {"x": {"datum": 102.4, "type": "quantitative", "scale": {"domain": [-0.18, 96.65], "nice": false, "zero": false}, "axis": null},
  "y": {"field": "p", "type": "quantitative", "scale": {"domain": [143.537, 168.856], "nice": false, "zero": false}, "axis": null},
  "text": {"field": "t"}}},
{"data": {"name": "cur"}, "mark": {"type": "tick", "orient": "horizontal", "size": 20, "thickness": 9, "color": "#ffffff", "opacity": 1},
 "encoding": {"x": {"datum": 100.2, "type": "quantitative", "scale": {"domain": [-0.18, 96.65], "nice": false, "zero": false}, "axis": null},
  "y": {"field": "p", "type": "quantitative", "scale": {"domain": [143.537, 168.856], "nice": false, "zero": false}, "axis": null}}},
{"data": {"name": "cur"}, "mark": {"type": "tick", "orient": "horizontal", "size": 18, "thickness": 7, "color": "#000000", "opacity": 1},
 "encoding": {"x": {"datum": 100.2, "type": "quantitative", "scale": {"domain": [-0.18, 96.65], "nice": false, "zero": false}, "axis": null},
  "y": {"field": "p", "type": "quantitative", "scale": {"domain": [143.537, 168.856], "nice": false, "zero": false}, "axis": null}}},
{"data": {"name": "cur"}, "mark": {"type": "text", "align": "center", "baseline": "middle", "fontSize": 6.3, "color": "#ffffff"},
 "encoding": {"x": {"datum": 100.2, "type": "quantitative", "scale": {"domain": [-0.18, 96.65], "nice": false, "zero": false}, "axis": null},
  "y": {"field": "p", "type": "quantitative", "scale": {"domain": [143.537, 168.856], "nice": false, "zero": false}, "axis": null},
  "text": {"field": "t"}}},
{"data": {"name": "rhead"}, "mark": {"type": "text", "align": "left", "baseline": "top", "fontSize": 6, "color": "#d8d8d8", "clip": true},
 "encoding": {"x": {"datum": 0.4, "type": "quantitative", "scale": {"domain": [-0.18, 96.65], "nice": false, "zero": false}, "axis": null},
  "y": {"datum": 168.75, "type": "quantitative", "scale": {"domain": [143.537, 168.856], "nice": false, "zero": false}, "axis": null},
  "text": {"field": "t"}}},
{"data": {"name": "rhead"}, "mark": {"type": "text", "align": "left", "baseline": "middle", "fontSize": 6, "color": "#d8d8d8"},
 "encoding": {"x": {"datum": 0.2, "type": "quantitative", "scale": {"domain": [-0.18, 96.65], "nice": false, "zero": false}, "axis": null},
  "y": {"datum": 143.75, "type": "quantitative", "scale": {"domain": [143.537, 168.856], "nice": false, "zero": false}, "axis": null},
  "text": {"field": "cp"}}},
{"data": {"name": "rhead"}, "mark": {"type": "text", "align": "left", "baseline": "middle", "fontSize": 6.5, "color": "#e0e0e0"},
 "encoding": {"x": {"datum": 41.3, "type": "quantitative", "scale": {"domain": [-0.18, 96.65], "nice": false, "zero": false}, "axis": null},
  "y": {"datum": 144.39, "type": "quantitative", "scale": {"domain": [143.537, 168.856], "nice": false, "zero": false}, "axis": null},
  "text": {"field": "n"}}},
{"data": {"name": "rhead"}, "mark": {"type": "rule", "color": "#e8e8e8", "strokeWidth": 1.5},
 "encoding": {"x": {"datum": -0.9, "type": "quantitative", "scale": {"domain": [-0.18, 96.65], "nice": false, "zero": false}, "axis": null}}},
{"data": {"name": "rhead"}, "mark": {"type": "rule", "color": "#1f3cff", "strokeWidth": 3.5},
 "encoding": {"x": {"datum": -18.8, "type": "quantitative", "scale": {"domain": [-0.18, 96.65], "nice": false, "zero": false}, "axis": null},
  "y": {"datum": 158.19, "type": "quantitative", "scale": {"domain": [143.537, 168.856], "nice": false, "zero": false}, "axis": null},
  "y2": {"datum": 159.4}}},
{"data": {"name": "rhead"}, "mark": {"type": "point", "shape": "triangle-up", "filled": true, "opacity": 1, "size": 90, "color": "#1f3cff"},
 "encoding": {"x": {"datum": -18.8, "type": "quantitative", "scale": {"domain": [-0.18, 96.65], "nice": false, "zero": false}, "axis": null},
  "y": {"datum": 159.5, "type": "quantitative", "scale": {"domain": [143.537, 168.856], "nice": false, "zero": false}, "axis": null}}},
{"data": {"name": "rhead"}, "mark": {"type": "rect", "fill": "#ffffff", "stroke": "#1f3cff", "strokeWidth": 2.5, "cornerRadius": 4},
 "encoding": {"x": {"datum": -25.9, "type": "quantitative", "scale": {"domain": [-0.18, 96.65], "nice": false, "zero": false}, "axis": null},
  "x2": {"datum": 18.8},
  "y": {"datum": 158.19, "type": "quantitative", "scale": {"domain": [143.537, 168.856], "nice": false, "zero": false}, "axis": null},
  "y2": {"datum": 157.26}}},
{"data": {"name": "rhead"}, "mark": {"type": "text", "align": "center", "baseline": "middle", "fontSize": 8.5, "color": "#1f3cff"},
 "encoding": {"x": {"datum": -3.5, "type": "quantitative", "scale": {"domain": [-0.18, 96.65], "nice": false, "zero": false}, "axis": null},
  "y": {"datum": 157.72, "type": "quantitative", "scale": {"domain": [143.537, 168.856], "nice": false, "zero": false}, "axis": null},
  "text": {"field": "a"}}}
]
}
]
}
